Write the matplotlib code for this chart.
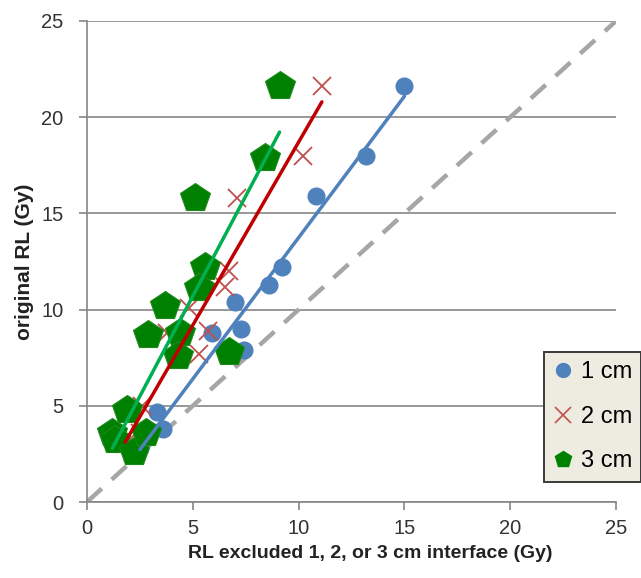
import numpy as np
import matplotlib.pyplot as plt
from matplotlib.lines import Line2D

plt.rcParams['font.family'] = ['Liberation Sans', 'DejaVu Sans']

# 1 cm interface
x_1cm = [15.0, 13.2, 10.8, 9.2, 8.6, 7.0, 7.3, 5.9, 7.4, 3.3, 3.6, 2.5]
y_1cm = [21.6, 18.0, 15.9, 12.2, 11.3, 10.4, 9.0, 8.8, 7.9, 4.7, 3.8, 2.8]

# 2 cm interface
x_2cm = [11.1, 10.2, 7.1, 6.7, 6.5, 4.8, 5.7, 3.8, 5.3, 2.6, 2.5, 1.8]
y_2cm = [21.6, 18.0, 15.8, 12.0, 11.2, 10.1, 8.9, 8.8, 7.7, 5.0, 3.6, 3.0]

# 3 cm interface
x_3cm = [9.1, 8.4, 5.1, 5.6, 5.3, 3.7, 4.4, 2.9, 4.3, 6.7, 1.9, 1.2, 1.3, 2.2, 2.8]
y_3cm = [21.6, 17.9, 15.8, 12.2, 11.1, 10.2, 8.8, 8.7, 7.6, 7.8, 4.8, 3.6, 3.2, 2.6, 3.6]

# line of identity
identity = [0, 25]

labels = ['1 cm', '2 cm', '3 cm']
ticks = [0, 5, 10, 15, 20, 25]

c_blue = '#4F81BD'
c_red = '#C0504D'
c_green = '#008000'

fig = plt.figure(figsize=(6.41, 5.78), dpi=100)
ax = fig.add_axes([87/641, 1-502/578, 529/641, 481/578])

ax.plot(identity, identity, color='#A6A6A6', lw=3.2, dashes=(4.5, 3), zorder=2, solid_capstyle='butt')

ax.plot(x_1cm, y_1cm, 'o', color=c_blue, ms=12, mec=c_blue, zorder=3)
ax.plot(x_2cm, y_2cm, 'x', color=c_red, ms=13, mew=1.3, zorder=3)
ax.plot(x_3cm, y_3cm, 'p', color=c_green, ms=22, mec='#1a8a1a', mew=0.8, zorder=4)

# linear trendlines over the data range
for xs, ys, col in [(x_1cm, y_1cm, c_blue), (x_2cm, y_2cm, '#C00000'), (x_3cm, y_3cm, '#00B050')]:
    k, b = np.polyfit(xs, ys, 1)
    xx = np.array([min(xs), max(xs)])
    ax.plot(xx, k * xx + b, color=col, lw=2.5, zorder=5, solid_capstyle='round')

ax.set_xlim(0, 25)
ax.set_ylim(0, 25)
ax.set_xticks(ticks)
ax.set_yticks(ticks)
ax.tick_params(colors='#868686', labelcolor='#333333', labelsize=14.5, length=6, width=1.2)
ax.tick_params(axis='x', pad=6)
ax.tick_params(axis='y', pad=11)
ax.yaxis.grid(True, color='#868686', lw=1.2)
ax.set_axisbelow(True)
for s in ['top', 'right']:
    ax.spines[s].set_visible(False)
for s in ['left', 'bottom']:
    ax.spines[s].set_color('#868686')
    ax.spines[s].set_linewidth(1.2)

ax.set_xlabel('RL excluded 1, 2, or 3 cm interface (Gy)', fontsize=14, fontweight='bold', color='#222222')
ax.set_ylabel('original RL (Gy)', fontsize=15, fontweight='bold', color='#222222')
ax.xaxis.set_label_coords(0.535, -0.09)
ax.yaxis.set_label_coords(-0.10, 0.5)

handles = [
    Line2D([], [], ls='none', marker='o', color=c_blue, ms=10),
    Line2D([], [], ls='none', marker='x', color=c_red, ms=11, mew=1.2),
    Line2D([], [], ls='none', marker='p', color=c_green, ms=12),
]
leg = fig.legend(handles, labels, loc='upper left', bbox_to_anchor=(544/641, 1-352/578),
                 bbox_transform=fig.transFigure, fontsize=17, handlelength=0.8,
                 handletextpad=0.35, labelspacing=0.95, borderpad=0.4, borderaxespad=0,
                 fancybox=False, framealpha=1)
leg.get_frame().set_facecolor('#EEECE1')
leg.get_frame().set_edgecolor('#3a3a3a')
leg.get_frame().set_linewidth(1.4)

fig.savefig('out.png', dpi=100)
